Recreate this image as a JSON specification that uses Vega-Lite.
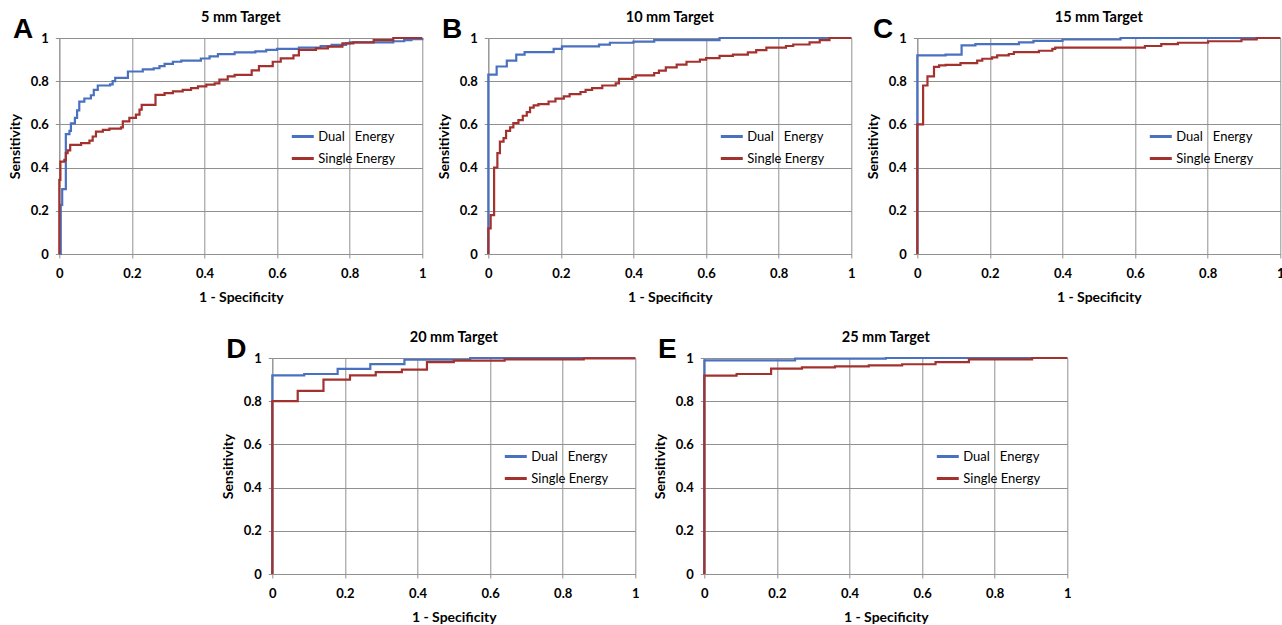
{
  "$schema": "https://vega.github.io/schema/vega-lite/v6.json",
  "padding": {"left": 8, "top": 9, "right": 0, "bottom": 0},
  "background": "white",
  "datasets": {
    "A": [
      {"x":0,"y":0,"s":"Dual Energy"},{"x":0.004,"y":0.227,"s":"Dual Energy"},{"x":0.008,"y":0.30,"s":"Dual Energy"},{"x":0.018,"y":0.555,"s":"Dual Energy"},{"x":0.028,"y":0.57,"s":"Dual Energy"},{"x":0.032,"y":0.605,"s":"Dual Energy"},{"x":0.043,"y":0.63,"s":"Dual Energy"},{"x":0.049,"y":0.665,"s":"Dual Energy"},{"x":0.055,"y":0.705,"s":"Dual Energy"},{"x":0.069,"y":0.72,"s":"Dual Energy"},{"x":0.087,"y":0.735,"s":"Dual Energy"},{"x":0.095,"y":0.76,"s":"Dual Energy"},{"x":0.106,"y":0.78,"s":"Dual Energy"},{"x":0.14,"y":0.785,"s":"Dual Energy"},{"x":0.147,"y":0.80,"s":"Dual Energy"},{"x":0.154,"y":0.815,"s":"Dual Energy"},{"x":0.189,"y":0.845,"s":"Dual Energy"},{"x":0.23,"y":0.855,"s":"Dual Energy"},{"x":0.26,"y":0.86,"s":"Dual Energy"},{"x":0.276,"y":0.87,"s":"Dual Energy"},{"x":0.29,"y":0.88,"s":"Dual Energy"},{"x":0.313,"y":0.89,"s":"Dual Energy"},{"x":0.336,"y":0.895,"s":"Dual Energy"},{"x":0.39,"y":0.905,"s":"Dual Energy"},{"x":0.414,"y":0.915,"s":"Dual Energy"},{"x":0.437,"y":0.925,"s":"Dual Energy"},{"x":0.483,"y":0.933,"s":"Dual Energy"},{"x":0.54,"y":0.938,"s":"Dual Energy"},{"x":0.57,"y":0.945,"s":"Dual Energy"},{"x":0.6,"y":0.95,"s":"Dual Energy"},{"x":0.66,"y":0.955,"s":"Dual Energy"},{"x":0.72,"y":0.962,"s":"Dual Energy"},{"x":0.75,"y":0.968,"s":"Dual Energy"},{"x":0.79,"y":0.975,"s":"Dual Energy"},{"x":0.80,"y":0.98,"s":"Dual Energy"},{"x":0.92,"y":0.985,"s":"Dual Energy"},{"x":0.95,"y":0.99,"s":"Dual Energy"},{"x":0.97,"y":0.995,"s":"Dual Energy"},{"x":1.0,"y":1.0,"s":"Dual Energy"},
      {"x":0,"y":0,"s":"Single Energy"},{"x":0,"y":0.343,"s":"Single Energy"},{"x":0.003,"y":0.428,"s":"Single Energy"},{"x":0.014,"y":0.436,"s":"Single Energy"},{"x":0.018,"y":0.467,"s":"Single Energy"},{"x":0.023,"y":0.48,"s":"Single Energy"},{"x":0.03,"y":0.505,"s":"Single Energy"},{"x":0.06,"y":0.513,"s":"Single Energy"},{"x":0.083,"y":0.525,"s":"Single Energy"},{"x":0.092,"y":0.544,"s":"Single Energy"},{"x":0.101,"y":0.567,"s":"Single Energy"},{"x":0.12,"y":0.575,"s":"Single Energy"},{"x":0.138,"y":0.58,"s":"Single Energy"},{"x":0.17,"y":0.586,"s":"Single Energy"},{"x":0.175,"y":0.614,"s":"Single Energy"},{"x":0.193,"y":0.63,"s":"Single Energy"},{"x":0.211,"y":0.645,"s":"Single Energy"},{"x":0.221,"y":0.668,"s":"Single Energy"},{"x":0.227,"y":0.69,"s":"Single Energy"},{"x":0.265,"y":0.737,"s":"Single Energy"},{"x":0.29,"y":0.745,"s":"Single Energy"},{"x":0.313,"y":0.753,"s":"Single Energy"},{"x":0.34,"y":0.76,"s":"Single Energy"},{"x":0.363,"y":0.768,"s":"Single Energy"},{"x":0.382,"y":0.776,"s":"Single Energy"},{"x":0.405,"y":0.784,"s":"Single Energy"},{"x":0.428,"y":0.79,"s":"Single Energy"},{"x":0.441,"y":0.807,"s":"Single Energy"},{"x":0.464,"y":0.822,"s":"Single Energy"},{"x":0.483,"y":0.829,"s":"Single Energy"},{"x":0.53,"y":0.85,"s":"Single Energy"},{"x":0.55,"y":0.87,"s":"Single Energy"},{"x":0.588,"y":0.89,"s":"Single Energy"},{"x":0.61,"y":0.906,"s":"Single Energy"},{"x":0.645,"y":0.92,"s":"Single Energy"},{"x":0.66,"y":0.945,"s":"Single Energy"},{"x":0.707,"y":0.952,"s":"Single Energy"},{"x":0.74,"y":0.96,"s":"Single Energy"},{"x":0.78,"y":0.975,"s":"Single Energy"},{"x":0.81,"y":0.98,"s":"Single Energy"},{"x":0.866,"y":0.99,"s":"Single Energy"},{"x":0.92,"y":1.0,"s":"Single Energy"},{"x":1.0,"y":1.0,"s":"Single Energy"}
    ],
    "B": [
      {"x":0,"y":0,"s":"Dual Energy"},{"x":0,"y":0.83,"s":"Dual Energy"},{"x":0.023,"y":0.868,"s":"Dual Energy"},{"x":0.051,"y":0.895,"s":"Dual Energy"},{"x":0.077,"y":0.923,"s":"Dual Energy"},{"x":0.10,"y":0.935,"s":"Dual Energy"},{"x":0.18,"y":0.95,"s":"Dual Energy"},{"x":0.203,"y":0.961,"s":"Dual Energy"},{"x":0.305,"y":0.969,"s":"Dual Energy"},{"x":0.335,"y":0.978,"s":"Dual Energy"},{"x":0.40,"y":0.983,"s":"Dual Energy"},{"x":0.457,"y":0.99,"s":"Dual Energy"},{"x":0.637,"y":1.0,"s":"Dual Energy"},{"x":1,"y":1,"s":"Dual Energy"},
      {"x":0,"y":0,"s":"Single Energy"},{"x":0,"y":0.119,"s":"Single Energy"},{"x":0.0065,"y":0.18,"s":"Single Energy"},{"x":0.016,"y":0.40,"s":"Single Energy"},{"x":0.025,"y":0.467,"s":"Single Energy"},{"x":0.032,"y":0.52,"s":"Single Energy"},{"x":0.042,"y":0.536,"s":"Single Energy"},{"x":0.049,"y":0.57,"s":"Single Energy"},{"x":0.06,"y":0.586,"s":"Single Energy"},{"x":0.069,"y":0.606,"s":"Single Energy"},{"x":0.083,"y":0.62,"s":"Single Energy"},{"x":0.095,"y":0.64,"s":"Single Energy"},{"x":0.106,"y":0.657,"s":"Single Energy"},{"x":0.115,"y":0.678,"s":"Single Energy"},{"x":0.125,"y":0.688,"s":"Single Energy"},{"x":0.138,"y":0.694,"s":"Single Energy"},{"x":0.166,"y":0.706,"s":"Single Energy"},{"x":0.185,"y":0.719,"s":"Single Energy"},{"x":0.208,"y":0.73,"s":"Single Energy"},{"x":0.224,"y":0.74,"s":"Single Energy"},{"x":0.254,"y":0.75,"s":"Single Energy"},{"x":0.268,"y":0.76,"s":"Single Energy"},{"x":0.286,"y":0.768,"s":"Single Energy"},{"x":0.314,"y":0.78,"s":"Single Energy"},{"x":0.351,"y":0.79,"s":"Single Energy"},{"x":0.36,"y":0.811,"s":"Single Energy"},{"x":0.397,"y":0.819,"s":"Single Energy"},{"x":0.406,"y":0.827,"s":"Single Energy"},{"x":0.457,"y":0.838,"s":"Single Energy"},{"x":0.47,"y":0.849,"s":"Single Energy"},{"x":0.489,"y":0.864,"s":"Single Energy"},{"x":0.519,"y":0.877,"s":"Single Energy"},{"x":0.546,"y":0.89,"s":"Single Energy"},{"x":0.583,"y":0.90,"s":"Single Energy"},{"x":0.6,"y":0.907,"s":"Single Energy"},{"x":0.637,"y":0.917,"s":"Single Energy"},{"x":0.674,"y":0.923,"s":"Single Energy"},{"x":0.715,"y":0.933,"s":"Single Energy"},{"x":0.738,"y":0.944,"s":"Single Energy"},{"x":0.766,"y":0.955,"s":"Single Energy"},{"x":0.82,"y":0.963,"s":"Single Energy"},{"x":0.84,"y":0.97,"s":"Single Energy"},{"x":0.885,"y":0.98,"s":"Single Energy"},{"x":0.913,"y":0.99,"s":"Single Energy"},{"x":0.94,"y":1.0,"s":"Single Energy"},{"x":1,"y":1,"s":"Single Energy"}
    ],
    "C": [
      {"x":0,"y":0,"s":"Dual Energy"},{"x":0,"y":0.92,"s":"Dual Energy"},{"x":0.078,"y":0.923,"s":"Dual Energy"},{"x":0.122,"y":0.966,"s":"Dual Energy"},{"x":0.16,"y":0.972,"s":"Dual Energy"},{"x":0.28,"y":0.98,"s":"Dual Energy"},{"x":0.32,"y":0.987,"s":"Dual Energy"},{"x":0.4,"y":0.993,"s":"Dual Energy"},{"x":0.56,"y":1.0,"s":"Dual Energy"},{"x":1,"y":1,"s":"Dual Energy"},
      {"x":0,"y":0,"s":"Single Energy"},{"x":0,"y":0.6,"s":"Single Energy"},{"x":0.016,"y":0.78,"s":"Single Energy"},{"x":0.028,"y":0.822,"s":"Single Energy"},{"x":0.046,"y":0.866,"s":"Single Energy"},{"x":0.06,"y":0.873,"s":"Single Energy"},{"x":0.078,"y":0.876,"s":"Single Energy"},{"x":0.119,"y":0.884,"s":"Single Energy"},{"x":0.165,"y":0.895,"s":"Single Energy"},{"x":0.179,"y":0.904,"s":"Single Energy"},{"x":0.206,"y":0.91,"s":"Single Energy"},{"x":0.22,"y":0.92,"s":"Single Energy"},{"x":0.252,"y":0.926,"s":"Single Energy"},{"x":0.266,"y":0.935,"s":"Single Energy"},{"x":0.335,"y":0.941,"s":"Single Energy"},{"x":0.372,"y":0.95,"s":"Single Energy"},{"x":0.38,"y":0.955,"s":"Single Energy"},{"x":0.627,"y":0.963,"s":"Single Energy"},{"x":0.672,"y":0.972,"s":"Single Energy"},{"x":0.718,"y":0.978,"s":"Single Energy"},{"x":0.801,"y":0.985,"s":"Single Energy"},{"x":0.893,"y":0.993,"s":"Single Energy"},{"x":0.935,"y":1.0,"s":"Single Energy"},{"x":1,"y":1,"s":"Single Energy"}
    ],
    "D": [
      {"x":0,"y":0,"s":"Dual Energy"},{"x":0,"y":0.92,"s":"Dual Energy"},{"x":0.088,"y":0.926,"s":"Dual Energy"},{"x":0.18,"y":0.95,"s":"Dual Energy"},{"x":0.27,"y":0.972,"s":"Dual Energy"},{"x":0.364,"y":0.992,"s":"Dual Energy"},{"x":0.545,"y":1.0,"s":"Dual Energy"},{"x":1,"y":1,"s":"Dual Energy"},
      {"x":0,"y":0,"s":"Single Energy"},{"x":0,"y":0.8,"s":"Single Energy"},{"x":0.07,"y":0.848,"s":"Single Energy"},{"x":0.141,"y":0.9,"s":"Single Energy"},{"x":0.214,"y":0.92,"s":"Single Energy"},{"x":0.285,"y":0.935,"s":"Single Energy"},{"x":0.357,"y":0.946,"s":"Single Energy"},{"x":0.426,"y":0.981,"s":"Single Energy"},{"x":0.5,"y":0.988,"s":"Single Energy"},{"x":0.64,"y":0.994,"s":"Single Energy"},{"x":0.858,"y":0.998,"s":"Single Energy"},{"x":1,"y":0.998,"s":"Single Energy"}
    ],
    "E": [
      {"x":0,"y":0,"s":"Dual Energy"},{"x":0,"y":0.989,"s":"Dual Energy"},{"x":0.25,"y":0.997,"s":"Dual Energy"},{"x":0.5,"y":1.0,"s":"Dual Energy"},{"x":1,"y":1,"s":"Dual Energy"},
      {"x":0,"y":0,"s":"Single Energy"},{"x":0,"y":0.918,"s":"Single Energy"},{"x":0.089,"y":0.926,"s":"Single Energy"},{"x":0.184,"y":0.951,"s":"Single Energy"},{"x":0.269,"y":0.957,"s":"Single Energy"},{"x":0.36,"y":0.961,"s":"Single Energy"},{"x":0.453,"y":0.966,"s":"Single Energy"},{"x":0.545,"y":0.971,"s":"Single Energy"},{"x":0.637,"y":0.981,"s":"Single Energy"},{"x":0.729,"y":0.994,"s":"Single Energy"},{"x":0.903,"y":1.0,"s":"Single Energy"},{"x":1,"y":1,"s":"Single Energy"}
    ]
  },
  "vconcat": [
    {
      "hconcat": [
        {
          "width": 363, "height": 216,
          "title": {"text": "5 mm Target"},
          "layer": [
            {"data": {"name": "A"}, "mark": {"type": "line", "interpolate": "step-after", "strokeWidth": 2.2},
             "encoding": {
               "x": {"field": "x", "type": "quantitative", "scale": {"domain": [0, 1]}, "axis": {"values": [0, 0.2, 0.4, 0.6, 0.8, 1], "format": "~g", "title": "1 - Specificity"}},
               "y": {"field": "y", "type": "quantitative", "scale": {"domain": [0, 1]}, "axis": {"values": [0, 0.2, 0.4, 0.6, 0.8, 1], "format": "~g", "title": "Sensitivity"}},
               "color": {"field": "s", "type": "nominal", "scale": {"domain": ["Dual Energy", "Single Energy"], "range": ["#4a70c0", "#a3322f"]}, "legend": {"labelExpr": "datum.label == 'Dual Energy' ? 'Dual\u00a0\u00a0\u00a0Energy' : datum.label"}},
               "order": {"value": null}
             }},
            {"data": {"values": [{"letter": "A"}]}, "mark": {"type": "text", "font": "Liberation Sans", "fontSize": 28, "fontWeight": "bold", "align": "center", "baseline": "alphabetic", "color": "black"},
             "encoding": {"x": {"datum": -0.1}, "y": {"datum": 1.0}, "text": {"field": "letter"}}}
          ]
        },
        {
          "width": 363, "height": 216,
          "title": {"text": "10 mm Target"},
          "layer": [
            {"data": {"name": "B"}, "mark": {"type": "line", "interpolate": "step-after", "strokeWidth": 2.2},
             "encoding": {
               "x": {"field": "x", "type": "quantitative", "scale": {"domain": [0, 1]}, "axis": {"values": [0, 0.2, 0.4, 0.6, 0.8, 1], "format": "~g", "title": "1 - Specificity"}},
               "y": {"field": "y", "type": "quantitative", "scale": {"domain": [0, 1]}, "axis": {"values": [0, 0.2, 0.4, 0.6, 0.8, 1], "format": "~g", "title": "Sensitivity"}},
               "color": {"field": "s", "type": "nominal", "scale": {"domain": ["Dual Energy", "Single Energy"], "range": ["#4a70c0", "#a3322f"]}, "legend": {"labelExpr": "datum.label == 'Dual Energy' ? 'Dual\u00a0\u00a0\u00a0Energy' : datum.label"}},
               "order": {"value": null}
             }},
            {"data": {"values": [{"letter": "B"}]}, "mark": {"type": "text", "font": "Liberation Sans", "fontSize": 28, "fontWeight": "bold", "align": "center", "baseline": "alphabetic", "color": "black"},
             "encoding": {"x": {"datum": -0.1}, "y": {"datum": 1.0}, "text": {"field": "letter"}}}
          ]
        },
        {
          "width": 363, "height": 216,
          "title": {"text": "15 mm Target"},
          "layer": [
            {"data": {"name": "C"}, "mark": {"type": "line", "interpolate": "step-after", "strokeWidth": 2.2},
             "encoding": {
               "x": {"field": "x", "type": "quantitative", "scale": {"domain": [0, 1]}, "axis": {"values": [0, 0.2, 0.4, 0.6, 0.8, 1], "format": "~g", "title": "1 - Specificity"}},
               "y": {"field": "y", "type": "quantitative", "scale": {"domain": [0, 1]}, "axis": {"values": [0, 0.2, 0.4, 0.6, 0.8, 1], "format": "~g", "title": "Sensitivity"}},
               "color": {"field": "s", "type": "nominal", "scale": {"domain": ["Dual Energy", "Single Energy"], "range": ["#4a70c0", "#a3322f"]}, "legend": {"labelExpr": "datum.label == 'Dual Energy' ? 'Dual\u00a0\u00a0\u00a0Energy' : datum.label"}},
               "order": {"value": null}
             }},
            {"data": {"values": [{"letter": "C"}]}, "mark": {"type": "text", "font": "Liberation Sans", "fontSize": 28, "fontWeight": "bold", "align": "center", "baseline": "alphabetic", "color": "black"},
             "encoding": {"x": {"datum": -0.094}, "y": {"datum": 1.0}, "text": {"field": "letter"}}}
          ]
        }
      ],
      "spacing": 9,
      "resolve": {"scale": {"color": "independent"}, "legend": {"color": "independent"}}
    },
    {
      "hconcat": [
        {
          "width": 363, "height": 216,
          "title": {"text": "20 mm Target"},
          "layer": [
            {"data": {"name": "D"}, "mark": {"type": "line", "interpolate": "step-after", "strokeWidth": 2.2},
             "encoding": {
               "x": {"field": "x", "type": "quantitative", "scale": {"domain": [0, 1]}, "axis": {"values": [0, 0.2, 0.4, 0.6, 0.8, 1], "format": "~g", "title": "1 - Specificity"}},
               "y": {"field": "y", "type": "quantitative", "scale": {"domain": [0, 1]}, "axis": {"values": [0, 0.2, 0.4, 0.6, 0.8, 1], "format": "~g", "title": "Sensitivity"}},
               "color": {"field": "s", "type": "nominal", "scale": {"domain": ["Dual Energy", "Single Energy"], "range": ["#4a70c0", "#a3322f"]}, "legend": {"labelExpr": "datum.label == 'Dual Energy' ? 'Dual\u00a0\u00a0\u00a0Energy' : datum.label"}},
               "order": {"value": null}
             }},
            {"data": {"values": [{"letter": "D"}]}, "mark": {"type": "text", "font": "Liberation Sans", "fontSize": 28, "fontWeight": "bold", "align": "center", "baseline": "alphabetic", "color": "black"},
             "encoding": {"x": {"datum": -0.099}, "y": {"datum": 1.0}, "text": {"field": "letter"}}}
          ]
        },
        {
          "width": 363, "height": 216,
          "title": {"text": "25 mm Target"},
          "layer": [
            {"data": {"name": "E"}, "mark": {"type": "line", "interpolate": "step-after", "strokeWidth": 2.2},
             "encoding": {
               "x": {"field": "x", "type": "quantitative", "scale": {"domain": [0, 1]}, "axis": {"values": [0, 0.2, 0.4, 0.6, 0.8, 1], "format": "~g", "title": "1 - Specificity"}},
               "y": {"field": "y", "type": "quantitative", "scale": {"domain": [0, 1]}, "axis": {"values": [0, 0.2, 0.4, 0.6, 0.8, 1], "format": "~g", "title": "Sensitivity"}},
               "color": {"field": "s", "type": "nominal", "scale": {"domain": ["Dual Energy", "Single Energy"], "range": ["#4a70c0", "#a3322f"]}, "legend": {"labelExpr": "datum.label == 'Dual Energy' ? 'Dual\u00a0\u00a0\u00a0Energy' : datum.label"}},
               "order": {"value": null}
             }},
            {"data": {"values": [{"letter": "E"}]}, "mark": {"type": "text", "font": "Liberation Sans", "fontSize": 28, "fontWeight": "bold", "align": "center", "baseline": "alphabetic", "color": "black"},
             "encoding": {"x": {"datum": -0.102}, "y": {"datum": 1.0}, "text": {"field": "letter"}}}
          ]
        }
      ],
      "spacing": 12,
      "resolve": {"scale": {"color": "independent"}, "legend": {"color": "independent"}}
    }
  ],
  "spacing": 25,
  "center": true,
  "resolve": {"scale": {"color": "independent"}, "legend": {"color": "independent"}},
  "config": {
    "font": "Lato",
    "view": {"stroke": null},
    "title": {"frame": "group", "anchor": "middle", "fontSize": 14.5, "fontWeight": "bold", "font": "Lato", "color": "black", "offset": -9},
    "axis": {
      "grid": true, "gridColor": "#909090", "gridWidth": 1, "gridOpacity": 1,
      "domainColor": "#909090", "domainWidth": 1, "tickColor": "#909090", "tickSize": 4, "tickWidth": 1,
      "labelFont": "Lato", "labelFontSize": 13, "labelFontWeight": "bold", "labelColor": "black", "labelPadding": 7,
      "titleFont": "Lato", "titleFontSize": 14, "titleFontWeight": "bold", "titleColor": "black"
    },
    "axisX": {"titlePadding": 10, "labelPadding": 9, "labelFlush": false},
    "axisY": {"titlePadding": 8},
    "legend": {
      "orient": "none", "legendX": 231, "legendY": 86, "title": null,
      "symbolType": "stroke", "symbolSize": 484, "symbolStrokeWidth": 3,
      "labelFont": "Lato", "labelFontSize": 13, "labelColor": "black", "labelOffset": 3,
      "rowPadding": 2, "padding": 0, "labelLimit": 0
    }
  }
}
